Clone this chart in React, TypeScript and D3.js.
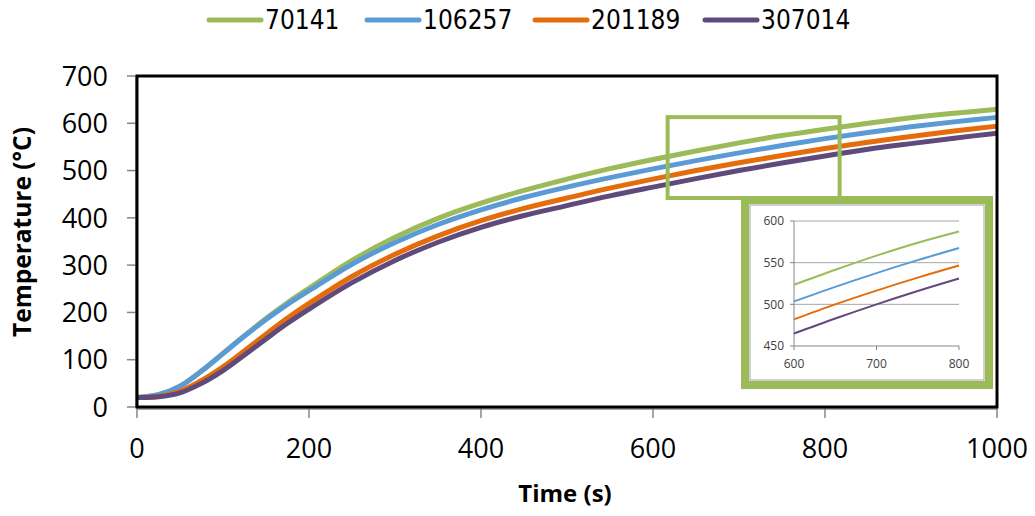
import React from "react";
import * as d3 from "d3";

const times = [0, 25, 50, 75, 100, 125, 150, 175, 200, 250, 300, 350, 400, 450, 500, 550, 600, 650, 700, 750, 800, 850, 900, 950, 1000];
const seriesNames = ["70141", "106257", "201189", "307014"];
const green70141 = [20, 26, 44, 76, 113.5, 151, 187, 220.5, 251, 310, 359, 399, 431, 458, 482, 504, 523.5, 541.5, 558.5, 574, 587.5, 600, 611.5, 621, 629.5];
const blue106257 = [20, 26, 44, 76, 113, 150, 185, 217, 246, 302, 348, 386, 417, 443, 465, 485, 503.5, 521, 537.5, 553, 567.5, 580.5, 592.5, 603, 612.5];
const orange201189 = [20, 22, 33, 56, 85, 119, 154, 188, 219, 276, 323, 362, 394, 420, 442, 463, 482, 500, 516.5, 532, 546.5, 560, 572, 583.5, 594];
const purple307014 = [20, 21.5, 30, 50, 77, 110, 144, 177, 207, 263, 310, 348.5, 380, 405, 426, 446.5, 465, 483, 500, 516, 531, 545, 557, 568.5, 579];
const seriesColors = ["#9BBB59", "#5B9BD5", "#E46C0A", "#604A7B"];
const xTicks = [0, 200, 400, 600, 800, 1000];
const yTicks = [0, 100, 200, 300, 400, 500, 600, 700];
const insetXTicks = [600, 700, 800];
const insetYTicks = [450, 500, 550, 600];
const zoomBoxX = [617, 817];
const zoomBoxY = [442, 613];

const allSeries = [green70141, blue106257, orange201189, purple307014];

export default function App() {
  const W = 1035, H = 516;
  const x = d3.scaleLinear().domain([0, 1000]).range([137, 997]);
  const y = d3.scaleLinear().domain([0, 700]).range([407, 76]);
  const line = d3.line<[number, number]>().x(d => x(d[0])).y(d => y(d[1])).curve(d3.curveCatmullRom.alpha(0.5));

  const ix = d3.scaleLinear().domain([600, 800]).range([794, 959]);
  const iy = d3.scaleLinear().domain([450, 600]).range([346, 221]);
  const iline = d3.line<[number, number]>().x(d => ix(d[0])).y(d => iy(d[1])).curve(d3.curveCatmullRom.alpha(0.5));

  const font = "'Open Sans', 'DejaVu Sans', sans-serif";
  const narrow = "'Liberation Sans Narrow', 'DejaVu Sans Condensed', sans-serif";
  const legendX = [207, 365, 533, 703];

  return (
    <svg width={W} height={H} style={{ position: "absolute", left: 0, top: 0 }}>
      <rect width={W} height={H} fill="#fff" />
      {/* Legend */}
      {seriesNames.map((n, i) => (
        <g key={n}>
          <line x1={legendX[i] + 2} x2={legendX[i] + 54} y1={20} y2={20} stroke={seriesColors[i]} strokeWidth={5} strokeLinecap="round" />
          <text x={legendX[i] + 58} y={29} fontFamily={narrow} fontSize={26} fill="#000">{n}</text>
        </g>
      ))}
      {/* Lines */}
      <g>
        {allSeries.map((s, i) => (
          <path key={i} d={line(times.map((t, j) => [t, s[j]] as [number, number])) || ""} fill="none" stroke={seriesColors[i]} strokeWidth={5} />
        ))}
      </g>
      {/* Axes ticks */}
      <line x1={x(0) - 1} x2={x(0) - 1} y1={y(700)} y2={y(0)} stroke="#868686" strokeWidth={1.5} />
      {yTicks.map(t => (
        <g key={t}>
          <line x1={x(0) - 10} x2={x(0)} y1={y(t)} y2={y(t)} stroke="#868686" strokeWidth={1.5} />
          <text x={108} y={y(t)} dy="0.36em" textAnchor="end" fontFamily={font} fontSize={27} fill="#000">{t}</text>
        </g>
      ))}
      <line x1={x(0)} x2={x(1000)} y1={y(0) + 2} y2={y(0) + 2} stroke="#868686" strokeWidth={1.5} />
      {xTicks.map(t => (
        <g key={t}>
          <line x1={x(t)} x2={x(t)} y1={y(0)} y2={y(0) + 11} stroke="#868686" strokeWidth={1.5} />
          <text x={x(t)} y={458} textAnchor="middle" fontFamily={font} fontSize={27} fill="#000">{t}</text>
        </g>
      ))}
      {/* Frame */}
      <rect x={x(0)} y={y(700)} width={x(1000) - x(0)} height={y(0) - y(700)} fill="none" stroke="#000" strokeWidth={3} />
      {/* Axis titles */}
      <text x={565} y={502} textAnchor="middle" fontFamily={font} fontWeight="bold" fontSize={24} fill="#000">Time (s)</text>
      <text transform="translate(31,232) rotate(-90)" textAnchor="middle" fontFamily={font} fontWeight="bold" fontSize={24.5} fill="#000">Temperature (°C)</text>
      {/* Zoom box */}
      <rect x={x(zoomBoxX[0])} y={y(zoomBoxY[1])} width={x(zoomBoxX[1]) - x(zoomBoxX[0])} height={y(zoomBoxY[0]) - y(zoomBoxY[1])} fill="none" stroke="#9BBB59" strokeWidth={4} />
      {/* Inset */}
      <rect x={745} y={200} width={244} height={185} fill="#fff" stroke="#9BBB59" strokeWidth={8} />
      <rect x={750} y={205} width={234} height={175} fill="none" stroke="#a0a0a0" strokeWidth={1} />
      {insetYTicks.map(t => (
        <g key={t}>
          {t > 450 && <line x1={ix(600)} x2={ix(800)} y1={iy(t)} y2={iy(t)} stroke="#a6a6a6" strokeWidth={1} />}
          <line x1={ix(600) - 4} x2={ix(600)} y1={iy(t)} y2={iy(t)} stroke="#868686" strokeWidth={1} />
          <text x={784} y={iy(t)} dy="0.36em" textAnchor="end" fontFamily={font} fontSize={12} fill="#404040">{t}</text>
        </g>
      ))}
      <line x1={ix(600)} x2={ix(600)} y1={iy(600)} y2={iy(450)} stroke="#868686" strokeWidth={1} />
      <line x1={ix(600)} x2={ix(800)} y1={iy(450)} y2={iy(450)} stroke="#868686" strokeWidth={1} />
      {insetXTicks.map(t => (
        <g key={t}>
          <line x1={ix(t)} x2={ix(t)} y1={iy(450)} y2={iy(450) + 4} stroke="#868686" strokeWidth={1} />
          <text x={ix(t)} y={368} textAnchor="middle" fontFamily={font} fontSize={12} fill="#404040">{t}</text>
        </g>
      ))}
      {allSeries.map((s, i) => (
        <path key={i} d={iline(times.map((t, j) => [t, s[j]] as [number, number]).filter(d => d[0] >= 600 && d[0] <= 800)) || ""} fill="none" stroke={seriesColors[i]} strokeWidth={2} />
      ))}
    </svg>
  );
}
